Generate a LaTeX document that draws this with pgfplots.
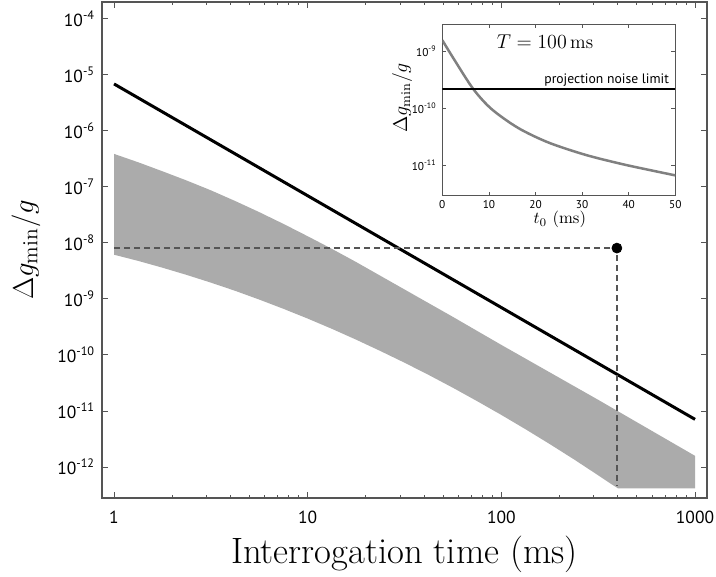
\documentclass[border=0pt]{standalone}
\usepackage{fontspec}
\newfontfamily\tickfont{PT Sans}
\usepackage{pgfplots}
\pgfplotsset{compat=1.18}
\definecolor{band}{RGB}{171,171,171}
\definecolor{axgray}{RGB}{85,85,85}
\definecolor{dashgray}{RGB}{85,85,85}
\definecolor{curvegray}{RGB}{128,128,128}
\begin{document}
\begin{tikzpicture}
\begin{axis}[
  at={(0pt,0pt)}, anchor=south west,
  scale only axis, width=363pt, height=297.6pt,
  xmode=log, ymode=log,
  xmin=0.867, xmax=1153,
  ymin=2.8e-13, ymax=2e-4,
  xtick={1,10,100,1000}, xticklabels={1,10,100,1000},
  minor xtick={2,3,4,5,6,7,8,9,20,30,40,50,60,70,80,90,200,300,400,500,600,700,800,900},
  ytick={1e-12,1e-11,1e-10,1e-9,1e-8,1e-7,1e-6,1e-5,1e-4},
  yticklabels={10\textsuperscript{-12},10\textsuperscript{-11},10\textsuperscript{-10},10\textsuperscript{-9},10\textsuperscript{-8},10\textsuperscript{-7},10\textsuperscript{-6},10\textsuperscript{-5},10\textsuperscript{-4}},
  yminorticks=false,
  major tick length=3.6pt, minor tick length=2pt,
  tick style={axgray, line width=0.6pt},
  axis line style={axgray, line width=0.7pt},
  ticklabel style={font=\tickfont\fontsize{10.5}{12}\selectfont},
  xticklabel style={yshift=-4.2pt},
  yticklabel style={xshift=-0.7pt},
  xlabel={Interrogation time (ms)},
  ylabel={$\Delta g_{\min}/g$},
  xlabel style={at={(axis description cs:0.5,-0.133)}, anchor=base, font=\fontsize{22}{26}\selectfont},
  ylabel style={at={(axis description cs:-0.114,0.5)}, anchor=base, font=\fontsize{18.5}{22}\selectfont},
]
\addplot[fill=band, draw=none, forget plot] coordinates {
  (1,3.89e-7) (1.334,2.754e-7) (1.778,1.905e-7) (2.371,1.303e-7) (3.162,8.71e-8)
  (4.217,5.62e-8) (5.623,3.55e-8) (7.499,2.188e-8) (10,1.318e-8) (13.34,7.85e-9)
  (17.78,4.57e-9) (23.71,2.60e-9) (31.62,1.479e-9) (42.17,8.41e-10) (56.23,4.79e-10)
  (74.99,2.69e-10) (100,1.514e-10) (177.8,4.90e-11) (316.2,1.585e-11)
  (562.3,5.01e-12) (1000,1.585e-12)
  (1000,4.17e-13) (400,4.17e-13) (363,5.17e-13) (316.2,7.12e-13) (237.1,1.37e-12)
  (177.8,2.57e-12) (133.4,4.72e-12) (100,8.51e-12) (74.99,1.50e-11) (56.23,2.60e-11)
  (42.17,4.40e-11) (31.62,7.29e-11) (23.71,1.18e-10) (17.78,1.88e-10) (13.34,2.93e-10)
  (10,4.47e-10) (7.499,6.67e-10) (5.623,9.76e-10) (4.217,1.40e-9) (3.162,1.96e-9)
  (2.371,2.69e-9) (1.778,3.62e-9) (1.334,4.78e-9) (1,6.17e-9)
} -- cycle;
\addplot[black, line width=1.8pt] coordinates {(1,6.9e-6) (1000,7.1e-12)};
\addplot[dashgray, line width=0.9pt, dash pattern=on 3.6pt off 2.4pt] coordinates {(1,8.1e-9) (395,8.1e-9) (395,4.6e-13)};
\addplot[only marks, mark=*, mark size=3pt, black] coordinates {(395,8.1e-9)};
\end{axis}
\begin{axis}[
  at={(204.2pt,181.5pt)}, anchor=south west,
  scale only axis, width=139.8pt, height=102.7pt,
  ymode=log,
  xmin=0, xmax=50, ymin=3.0e-12, ymax=3.0e-9,
  xtick={0,10,20,30,40,50}, xticklabels={0,10,20,30,40,50},
  ytick={1e-11,1e-10,1e-9},
  yticklabels={10\textsuperscript{-11},10\textsuperscript{-10},10\textsuperscript{-9}},
  yminorticks=false,
  axis background/.style={fill=white},
  major tick length=2.4pt,
  tick style={axgray, line width=0.5pt},
  axis line style={axgray, line width=0.7pt},
  ticklabel style={font=\tickfont\fontsize{6.8}{8}\selectfont},
  xticklabel style={yshift=0.6pt},
  xlabel={$t_0\ (\mathrm{ms})$},
  ylabel={$\Delta g_{\min}/g$},
  xlabel style={at={(axis description cs:0.504,-0.165)}, anchor=base, font=\fontsize{10}{12}\selectfont},
  ylabel style={at={(axis description cs:-0.151,0.57)}, anchor=base, font=\fontsize{12}{14}\selectfont},
]
\addplot[curvegray, line width=1.5pt, smooth] coordinates {
  (0,1.58e-9) (2.7,6.92e-10) (6.67,2.19e-10) (10.6,9.77e-11) (16.3,4.57e-11)
  (22.8,2.54e-11) (30.7,1.55e-11) (38.5,1.07e-11) (45,8.22e-12) (50,6.76e-12)
};
\addplot[black, line width=1.2pt] coordinates {(0,2.2e-10) (50,2.2e-10)};
\node[anchor=base, inner sep=0pt] at (axis description cs:0.441,0.856) {\fontsize{11.5}{14}\selectfont $T = 100\,\mathrm{ms}$};
\node[anchor=base east, inner sep=0pt] at (axis description cs:0.974,0.652) {\tickfont\fontsize{8.2}{10}\selectfont projection noise limit};
\end{axis}
\pgfresetboundingbox
\path[use as bounding box] (-61.2pt,-47.4pt) rectangle (368.4pt,298.8pt);
\end{tikzpicture}
\end{document}
